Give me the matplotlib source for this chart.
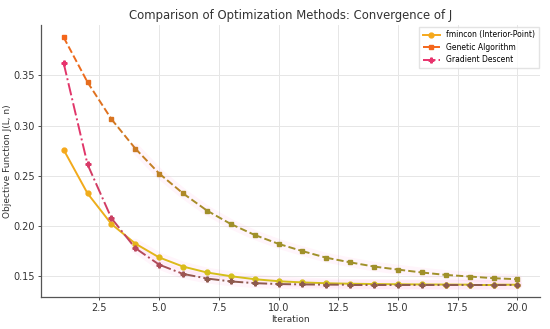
import numpy as np
import matplotlib
matplotlib.use("Agg")
import matplotlib.pyplot as plt
from matplotlib.colors import to_rgb
from matplotlib.lines import Line2D

iterations = list(range(1, 21))
fmincon = [0.276, 0.2325, 0.202, 0.1825, 0.1687, 0.1596, 0.1537, 0.150, 0.147, 0.145,
           0.1438, 0.1430, 0.1425, 0.1422, 0.1420, 0.1418, 0.1417, 0.1416, 0.1416, 0.1415]
genetic = [0.388, 0.3433, 0.3065, 0.2772, 0.2523, 0.2325, 0.2154, 0.202, 0.1911, 0.1822,
           0.175, 0.1684, 0.1638, 0.1596, 0.1566, 0.1537, 0.1513, 0.1497, 0.148, 0.147]
gradient = [0.3623, 0.2614, 0.2078, 0.178, 0.1615, 0.1523, 0.1477, 0.1448, 0.1431, 0.1422,
            0.1418, 0.1416, 0.1415, 0.1415, 0.1415, 0.1415, 0.1415, 0.1415, 0.1415, 0.1415]

series = [
    ("fmincon (Interior-Point)", fmincon, "-", "o", "#F5A81B", "#D4BF1A"),
    ("Genetic Algorithm", genetic, "--", "s", "#F4661B", "#A0902A"),
    ("Gradient Descent", gradient, "-.", "P", "#E8336D", "#8E5A4E"),
]

fig = plt.figure(figsize=(5.5, 3.29), dpi=100)
ax = fig.add_axes([0.0745, 0.097, 0.9075, 0.827])

x = np.array(iterations, dtype=float)

def blend(c0, c1, t):
    a = np.array(to_rgb(c0)); b = np.array(to_rgb(c1))
    return tuple(a + (b - a) * t)

handles = []
for label, ys, ls, mk, c0, c1 in series:
    y = np.array(ys)
    n = len(x)
    ax.plot(x[3:], y[3:], color="#FF80D0", lw=7, alpha=0.08, solid_capstyle="round", zorder=1)
    for i in range(n - 1):
        t = min(1.0, (i + 0.5) / 6.0)
        ax.plot(x[i:i + 2], y[i:i + 2], linestyle=ls, color=blend(c0, c1, t), lw=1.4, zorder=2)
    for i in range(n):
        t = min(1.0, i / 6.0)
        ax.plot(x[i], y[i], marker=mk, color=blend(c0, c1, t), ms=3.5, zorder=3, linestyle="none")
    handles.append(Line2D([0], [0], color=c0, linestyle=ls, marker=mk, ms=3.5, lw=1.4, label=label))

ax.set_xlim(0.05, 20.95)
ax.set_ylim(0.1292, 0.4003)
ax.set_xticks([2.5, 5.0, 7.5, 10.0, 12.5, 15.0, 17.5, 20.0])
ax.set_yticks([0.15, 0.20, 0.25, 0.30, 0.35])
ax.grid(True, color="#E6E6E6", lw=0.7)
ax.set_axisbelow(True)
for s in ["top", "right"]:
    ax.spines[s].set_visible(False)
for s in ["left", "bottom"]:
    ax.spines[s].set_color("#555555")
    ax.spines[s].set_linewidth(0.9)
ax.tick_params(labelsize=7, colors="#333333", length=2.5, width=0.6, pad=2)
ax.set_xlabel("Iteration", fontsize=6.5, color="#333333", labelpad=1)
ax.set_ylabel("Objective Function J(L, n)", fontsize=6.5, color="#333333", labelpad=1)
ax.set_title("Comparison of Optimization Methods: Convergence of J", fontsize=8.4, color="#333333", pad=4)
ax.legend(handles=handles, loc="upper right", fontsize=5.5, frameon=True, edgecolor="#DDDDDD",
          fancybox=False, handlelength=2.2, borderpad=0.5, labelspacing=0.45, borderaxespad=0.2)

fig.savefig("out.png", dpi=100)
